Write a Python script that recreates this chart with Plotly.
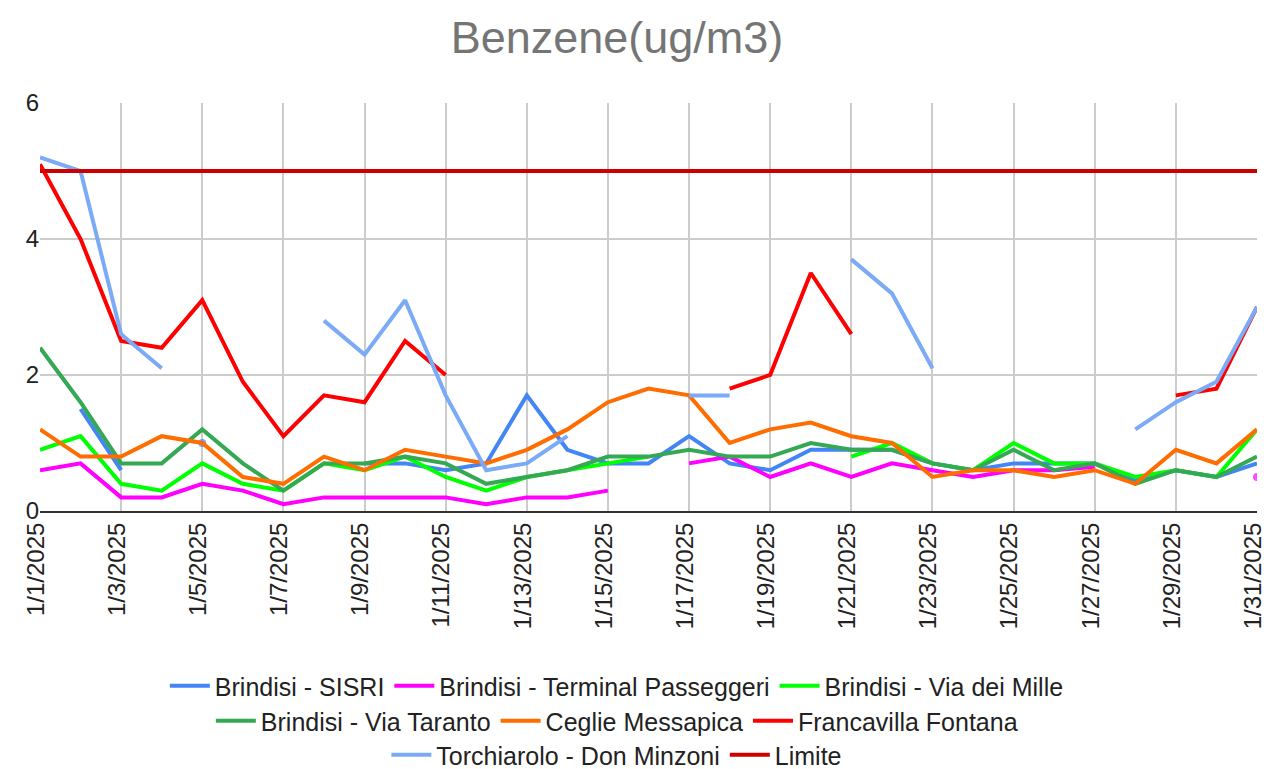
import plotly.graph_objects as go
import datetime as dt

days = [dt.date(2025, 1, d) for d in range(1, 32)]
N = None

sisri = [N, 1.5, 0.6, N, 1.0, N, N, N, 0.7, 0.7, 0.6, 0.7, 1.7, 0.9, 0.7, 0.7, 1.1, 0.7, 0.6, 0.9,
         0.9, 0.9, 0.7, 0.6, 0.7, 0.7, 0.7, 0.45, 0.6, 0.5, 0.7]
terminal = [0.6, 0.7, 0.2, 0.2, 0.4, 0.3, 0.1, 0.2, 0.2, 0.2, 0.2, 0.1, 0.2, 0.2, 0.3, N, 0.7, 0.8, 0.5, 0.7,
            0.5, 0.7, 0.6, 0.5, 0.6, 0.6, 0.65, N, N, N, 0.5]
mille = [0.9, 1.1, 0.4, 0.3, 0.7, 0.4, 0.3, 0.7, 0.6, 0.8, 0.5, 0.3, 0.5, 0.6, 0.7, 0.8, N, N, N, N,
         0.8, 1.0, 0.7, 0.6, 1.0, 0.7, 0.7, 0.5, 0.6, 0.5, 1.2]
taranto = [2.4, 1.6, 0.7, 0.7, 1.2, 0.7, 0.3, 0.7, 0.7, 0.8, 0.7, 0.4, 0.5, 0.6, 0.8, 0.8, 0.9, 0.8, 0.8, 1.0,
           0.9, 0.9, 0.7, 0.6, 0.9, 0.6, 0.7, 0.4, 0.6, 0.5, 0.8]
ceglie = [1.2, 0.8, 0.8, 1.1, 1.0, 0.5, 0.4, 0.8, 0.6, 0.9, 0.8, 0.7, 0.9, 1.2, 1.6, 1.8, 1.7, 1.0, 1.2, 1.3,
          1.1, 1.0, 0.5, 0.6, 0.6, 0.5, 0.6, 0.4, 0.9, 0.7, 1.2]
francavilla = [5.1, 4.0, 2.5, 2.4, 3.1, 1.9, 1.1, 1.7, 1.6, 2.5, 2.0, N, N, N, N, N, N, 1.8, 2.0, 3.5,
               2.6, N, N, N, N, N, N, N, 1.7, 1.8, 3.0]
torchiarolo = [5.2, 5.0, 2.6, 2.1, N, N, N, 2.8, 2.3, 3.1, 1.7, 0.6, 0.7, 1.1, N, N, 1.7, 1.7, N, N,
               3.7, 3.2, 2.1, N, N, N, N, 1.2, 1.6, 1.9, 3.0]
limite = [5.0] * 31

series = [
    ("Brindisi - SISRI", sisri, "#4285F4", "legend"),
    ("Brindisi - Terminal Passeggeri", terminal, "#FF00FF", "legend"),
    ("Brindisi - Via dei Mille", mille, "#00FF00", "legend"),
    ("Brindisi - Via Taranto", taranto, "#34A853", "legend2"),
    ("Ceglie Messapica", ceglie, "#FF6D01", "legend2"),
    ("Francavilla Fontana", francavilla, "#FF0000", "legend2"),
    ("Torchiarolo - Don Minzoni", torchiarolo, "#7BAAF7", "legend3"),
    ("Limite", limite, "#CC0000", "legend3"),
]

fig = go.Figure()
for name, vals, color, leg in series:
    sizes = []
    for i, v in enumerate(vals):
        prev_ = vals[i - 1] if i > 0 else None
        next_ = vals[i + 1] if i < len(vals) - 1 else None
        sizes.append(8 if (v is not None and prev_ is None and next_ is None) else 0)
    fig.add_trace(go.Scatter(
        x=days, y=vals, name=name, mode="lines+markers",
        line=dict(color=color, width=4),
        marker=dict(size=sizes, color=color, line=dict(width=0)),
        connectgaps=False, legend=leg,
    ))

W, H = 1268, 769
ml, mr, mt, mb = 40, 11, 103, 258
ph = H - mt - mb

def py(page_y):
    return (H - mb - page_y) / ph

leg_common = dict(orientation="h", x=0.474, xanchor="center", yanchor="middle",
                  font=dict(size=25, color="#222222"), itemwidth=40, traceorder="normal",
                  bgcolor="rgba(0,0,0,0)")

tickdays = days[::2]
fig.update_layout(
    width=W, height=H,
    paper_bgcolor="white", plot_bgcolor="white",
    margin=dict(l=ml, r=mr, t=mt, b=mb, autoexpand=False),
    font=dict(family="Arial, Liberation Sans, sans-serif", color="#222222"),
    title=dict(text="Benzene(ug/m3)", x=617 / W, xanchor="center",
               y=1 - 37 / H, yanchor="middle",
               font=dict(size=45, color="#757575", family="Arial, Liberation Sans, sans-serif")),
    showlegend=True,
    legend=dict(y=py(686), **leg_common),
    legend2=dict(y=py(721), **leg_common),
    legend3=dict(y=py(755), **leg_common),
    xaxis=dict(
        range=[days[0], days[-1]], tickmode="array", tickvals=tickdays,
        ticktext=[f"{d.month}/{d.day}/{d.year}" for d in tickdays],
        tickangle=-90, tickfont=dict(size=24, color="#222222"),
        ticklabelshift=-4,
        showgrid=True, gridcolor="#CCCCCC", gridwidth=2, automargin=False,
        ticklabeloverflow="allow",
        showline=True, linecolor="#333333", linewidth=2, zeroline=False, ticks="",
    ),
    yaxis=dict(
        range=[0, 6], tickvals=[0, 2, 4, 6], tickfont=dict(size=24, color="#222222"),
        showgrid=True, gridcolor="#CCCCCC", gridwidth=2, zeroline=False, showline=False,
        ticks="", automargin=False,
    ),
)
fig.write_html("out.html", config={"displayModeBar": False},
               post_script="document.body.style.margin='0';")
